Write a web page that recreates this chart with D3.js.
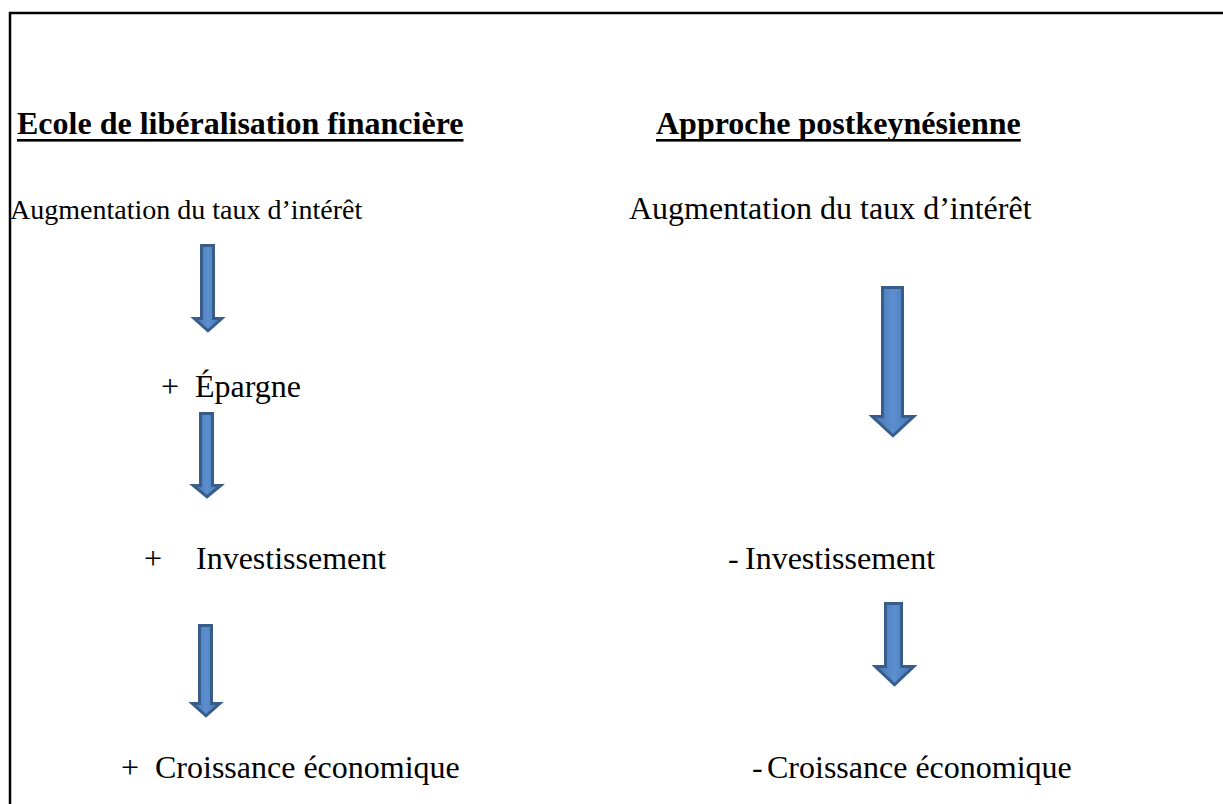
<!DOCTYPE html>
<html>
<head>
<meta charset="utf-8">
<script src="https://cdn.jsdelivr.net/npm/d3@7"></script>
<style>
  html, body { margin: 0; padding: 0; background: #fff; }
  svg { display: block; }
  text { font-family: "Liberation Serif", "Times New Roman", serif; fill: #000; }
</style>
</head>
<body>
<div id="chart"></div>
<script>
// diagram contents
var titles = ["Ecole de libéralisation financière", "Approche postkeynésienne"];
var leftSigns = ["", "+", "+", "+"];
var leftSteps = ["Augmentation du taux d\u2019intérêt", "Épargne", "Investissement", "Croissance économique"];
var rightSigns = ["", "-", "-"];
var rightSteps = ["Augmentation du taux d\u2019intérêt", "Investissement", "Croissance économique"];

// layout (pixels)
const width = 1223,
    height = 804,
    fontSize = 32,
    titleY = 134,
    arrowStroke = "#385d8a";

// text rows: baseline y, sign x, word x, font size
var leftRows = [
    {y: 219, sx: null, wx: 10, fs: 28},
    {y: 397, sx: 161, wx: 195, fs: 32},
    {y: 569, sx: 144, wx: 196, fs: 32},
    {y: 778, sx: 121, wx: 155, fs: 32}
];
var rightRows = [
    {y: 219, sx: null, wx: 629, fs: 32},
    {y: 569, sx: 728, wx: 745, fs: 32},
    {y: 778, sx: 752, wx: 767, fs: 32}
];
// arrows: shaft x0-x1, top, head start, tip, head left-right
var arrows = [
    {x0: 200, x1: 215, top: 244, hy: 317, tip: 333, hl: 192, hr: 224},
    {x0: 199, x1: 214, top: 412, hy: 484, tip: 499, hl: 191, hr: 223},
    {x0: 198, x1: 213, top: 624, hy: 702, tip: 718, hl: 190, hr: 222},
    {x0: 881, x1: 904, top: 286, hy: 415, tip: 438, hl: 870, hr: 916},
    {x0: 884, x1: 903, top: 602, hy: 665, tip: 687, hl: 873, hr: 916}
];

var svg = d3.select("#chart").append("svg")
    .attr("width", width)
    .attr("height", height);

// gradient for arrow body
var grad = svg.append("defs").append("linearGradient")
    .attr("id", "arrowGrad")
    .attr("x1", "0%").attr("x2", "100%").attr("y1", "0%").attr("y2", "0%");
grad.append("stop").attr("offset", "0%").attr("stop-color", "#4674ae");
grad.append("stop").attr("offset", "50%").attr("stop-color", "#5b8fd0");
grad.append("stop").attr("offset", "100%").attr("stop-color", "#4674ae");

// frame: left and top edges only
svg.append("path")
    .attr("d", d3.line()([[10, height], [10, 13], [width, 13]]))
    .attr("fill", "none")
    .attr("stroke", "#000")
    .attr("stroke-width", 2.5);

// titles (bold) with underline drawn by hand
var titleX = [17, 656];
var tg = svg.append("g");
tg.selectAll("text")
    .data(titles)
    .enter().append("text")
    .attr("x", (d, i) => titleX[i])
    .attr("y", titleY)
    .style("font-size", fontSize + "px")
    .style("font-weight", "bold")
    .text(d => d)
    .each(function(d, i) {
        var w = this.getComputedTextLength();
        tg.append("rect")
            .attr("x", titleX[i])
            .attr("y", titleY + 5)
            .attr("width", w)
            .attr("height", 2.6)
            .attr("fill", "#000");
    });

// draw one column of steps
function drawColumn(signs, steps, rows) {
    var g = svg.append("g");
    signs.forEach(function(s, i) {
        if (s === "") return;
        g.append("text")
            .attr("x", rows[i].sx)
            .attr("y", rows[i].y)
            .style("font-size", rows[i].fs + "px")
            .text(s);
    });
    g.selectAll("text.step")
        .data(steps)
        .enter().append("text")
        .attr("class", "step")
        .attr("x", (d, i) => rows[i].wx)
        .attr("y", (d, i) => rows[i].y)
        .style("font-size", (d, i) => rows[i].fs + "px")
        .text(d => d);
}
drawColumn(leftSigns, leftSteps, leftRows);
drawColumn(rightSigns, rightSteps, rightRows);

// block arrows
function arrowPath(a) {
    var s = 1.5; // inset by half the stroke
    return d3.line()([
        [a.x0 + s, a.top + s],
        [a.x1 - s, a.top + s],
        [a.x1 - s, a.hy + s],
        [a.hr - s * 1.5, a.hy + s],
        [(a.hl + a.hr) / 2, a.tip - s * 1.5],
        [a.hl + s * 1.5, a.hy + s],
        [a.x0 + s, a.hy + s]
    ]) + "Z";
}
svg.append("g")
    .selectAll("path")
    .data(arrows)
    .enter().append("path")
    .attr("d", arrowPath)
    .attr("fill", "url(#arrowGrad)")
    .attr("stroke", arrowStroke)
    .attr("stroke-width", 3)
    .attr("stroke-linejoin", "miter");
</script>
</body>
</html>
